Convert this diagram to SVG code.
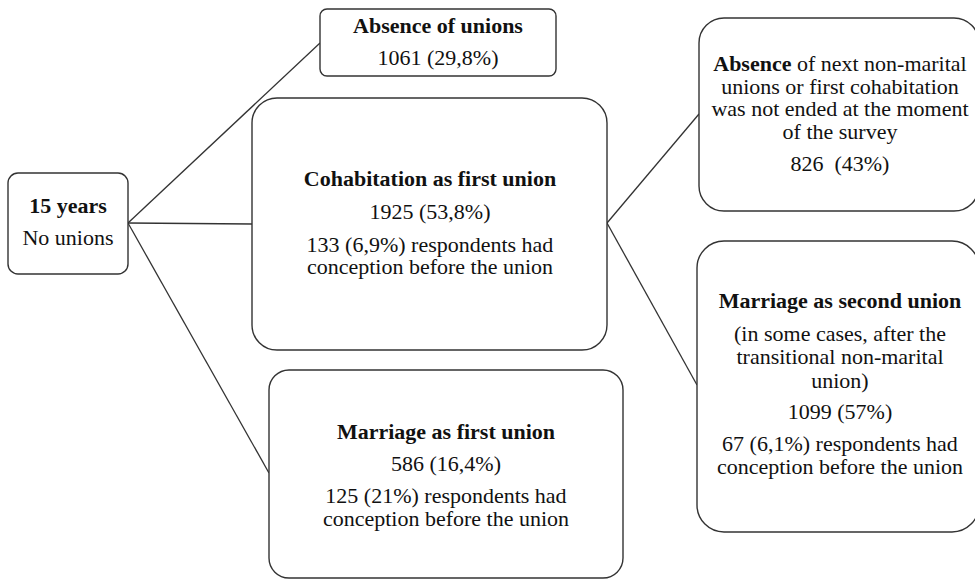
<svg xmlns="http://www.w3.org/2000/svg" width="975" height="581" viewBox="0 0 975 581">
<style>
.box{fill:#fff;stroke:#333;stroke-width:1.4}
.ln{stroke:#333;stroke-width:1.3;fill:none}
text{font-family:"Liberation Serif","Times New Roman",serif;font-size:20px;fill:#111;text-anchor:middle}
.b{font-weight:bold}
</style>
<rect width="975" height="581" fill="#fff"/>
<g id="connectors">
<line class="ln" x1="128" y1="223" x2="320" y2="43"/>
<line class="ln" x1="128" y1="223" x2="252" y2="224"/>
<line class="ln" x1="128" y1="223" x2="269" y2="473"/>
<line class="ln" x1="607" y1="223" x2="699" y2="114"/>
<line class="ln" x1="607" y1="223" x2="697" y2="385"/>
</g>
<g id="n15years">
<rect class="box" x="8" y="173" width="120" height="101" rx="10"/>
<g transform="matrix(1.1,0,0,1,-6.8,0)">
<text class="b" x="68" y="213">15 years</text>
<text x="68" y="245">No unions</text>
</g>
</g>
<g id="absence">
<rect class="box" x="320" y="9" width="236" height="67" rx="7"/>
<g transform="matrix(1.1,0,0,1,-43.8,0)">
<text class="b" x="438" y="33">Absence of unions</text>
<text x="438" y="65">1061 (29,8%)</text>
</g>
</g>
<g id="cohabitation">
<rect class="box" x="252" y="98" width="355" height="252" rx="25"/>
<g transform="matrix(1.1,0,0,1,-43,0)">
<text class="b" x="430" y="186">Cohabitation as first union</text>
<text x="430" y="219">1925 (53,8%)</text>
<text x="430" y="252">133 (6,9%) respondents had</text>
<text x="430" y="274">conception before the union</text>
</g>
</g>
<g id="marriage1">
<rect class="box" x="269" y="370" width="354" height="208" rx="20"/>
<g transform="matrix(1.1,0,0,1,-44.6,0)">
<text class="b" x="446" y="439">Marriage as first union</text>
<text x="446" y="471">586 (16,4%)</text>
<text x="446" y="503">125 (21%) respondents had</text>
<text x="446" y="526">conception before the union</text>
</g>
</g>
<g id="absence-next">
<rect class="box" x="699" y="18" width="280" height="193" rx="25"/>
<g transform="matrix(1.1,0,0,1,-84,0)">
<text x="840" y="71"><tspan class="b">Absence</tspan> of next non-marital</text>
<text x="840" y="94">unions or first cohabitation</text>
<text x="840" y="116">was not ended at the moment</text>
<text x="840" y="139">of the survey</text>
<text x="840" y="171" xml:space="preserve">826  (43%)</text>
</g>
</g>
<g id="marriage2">
<rect class="box" x="697" y="241" width="282" height="291" rx="27"/>
<g transform="matrix(1.1,0,0,1,-84,0)">
<text class="b" x="840" y="308">Marriage as second union</text>
<text x="840" y="341">(in some cases, after the</text>
<text x="840" y="364">transitional non-marital</text>
<text x="840" y="388">union)</text>
<text x="840" y="419">1099 (57%)</text>
<text x="840" y="451">67 (6,1%) respondents had</text>
<text x="840" y="474">conception before the union</text>
</g>
</g>
</svg>
